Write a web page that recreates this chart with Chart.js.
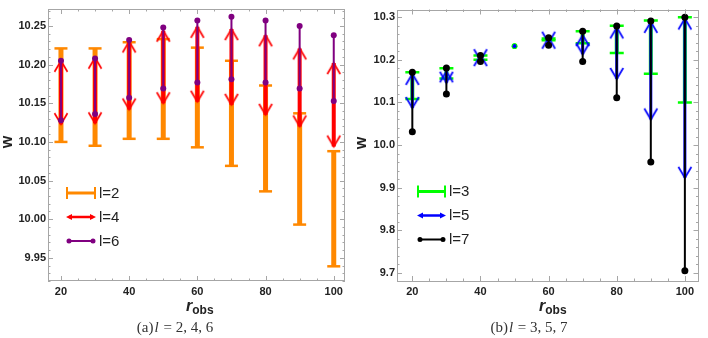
<!DOCTYPE html>
<html lang="en">
<head>
<meta charset="UTF-8" />
<title>w vs r_obs</title>
<script src="https://cdn.jsdelivr.net/npm/chart.js"></script>
<style>
  body { margin: 0; background: #fff; }
  #wrap { position: relative; width: 708px; height: 338px; overflow: hidden; }
  .panel { position: absolute; top: 0; width: 354px; height: 310px; }
  .ytitle { position: absolute; font: bold 16px "Liberation Sans", Arial, sans-serif; color: #222;
            transform: rotate(-90deg); transform-origin: center; width: 14px; text-align: center; }
  .xtitle { position: absolute; font: bold italic 16px "Liberation Sans", Arial, sans-serif; color: #222; }
  .xtitle sub { font-style: normal; font-size: 12px; vertical-align: -3px; }
  .caption { position: absolute; top: 319px; width: 200px; text-align: center;
             font: 15px "Liberation Serif", "Times New Roman", serif; color: #333; }
  .caption i { margin: 0 1px; }
</style>
</head>
<body>
<div id="wrap">
  <div class="panel" style="left:0"><canvas id="chartA" width="354" height="310"></canvas></div>
  <div class="panel" style="left:354px"><canvas id="chartB" width="354" height="310"></canvas></div>

  <div class="ytitle" style="left:0px; top:133px;">w</div>
  <div class="ytitle" style="left:354px; top:134px;">w</div>
  <div class="xtitle" style="left:186px; top:297px;">r<sub>obs</sub></div>
  <div class="xtitle" style="left:539px; top:297px;">r<sub>obs</sub></div>

  <div class="caption" style="left:75px;">(a)<i>l</i>&nbsp;=&nbsp;2,&nbsp;4,&nbsp;6</div>
  <div class="caption" style="left:429px;">(b)<i>l</i>&nbsp;=&nbsp;3,&nbsp;5,&nbsp;7</div>
</div>

<script>
// ---- data ----
const rObs = [20, 30, 40, 50, 60, 70, 80, 90, 100];

// (a) l = 2, 4, 6
const l2Lo = [10.100, 10.095, 10.104, 10.104, 10.093, 10.069, 10.036, 9.993, 9.939];
const l2Hi = [10.221, 10.221, 10.229, 10.233, 10.222, 10.205, 10.173, 10.137, 10.088];
const l4Lo = [10.123, 10.124, 10.142, 10.150, 10.152, 10.148, 10.135, 10.120, 10.094];
const l4Hi = [10.205, 10.209, 10.230, 10.244, 10.249, 10.246, 10.238, 10.221, 10.202];
const l6Lo = [10.128, 10.136, 10.157, 10.169, 10.177, 10.181, 10.177, 10.169, 10.153];
const l6Hi = [10.205, 10.208, 10.232, 10.248, 10.257, 10.262, 10.257, 10.250, 10.238];

// (b) l = 3, 5, 7
const l3Lo = [10.108, 10.156, 10.200, 10.232, 10.246, 10.239, 10.216, 10.167, 10.100];
const l3Hi = [10.171, 10.180, 10.210, 10.232, 10.250, 10.267, 10.280, 10.292, 10.300];
const l5Lo = [10.087, 10.146, 10.199, 10.232, 10.240, 10.213, 10.155, 10.060, 9.923];
const l5Hi = [10.167, 10.173, 10.211, 10.232, 10.252, 10.258, 10.276, 10.289, 10.297];
const l7Lo = [10.031, 10.120, 10.196, null, 10.234, 10.196, 10.111, 9.960, 9.705];
const l7Hi = [10.171, 10.181, 10.210, null, 10.252, 10.267, 10.279, 10.291, 10.300];

// tick labels
const xTickValues = [20, 40, 60, 80, 100];
const yTicksA = [9.95, 10.00, 10.05, 10.10, 10.15, 10.20, 10.25];
const yTicksB = [9.7, 9.8, 9.9, 10.0, 10.1, 10.2, 10.3];

const labelsA = ['l=2', 'l=4', 'l=6'];
const labelsB = ['l=3', 'l=5', 'l=7'];

const COL = { orange: '#ff8800', red: '#ff0000', purple: '#800080',
              green: '#00ff00', blue: '#0000ff', black: '#000000' };

// ---- helpers ----
// lo/hi pairs -> line segments separated by gaps
function segs(lo, hi) {
  const pts = [];
  rObs.forEach((x, i) => {
    if (lo[i] == null) return;
    const flat = lo[i] === hi[i];
    pts.push({ x, y: lo[i], end: 'lo', flat }, { x, y: hi[i], end: 'hi', flat }, { x, y: null });
  });
  return pts;
}

// open chevron arrowheads, tip at image centre
function chevron(color, up) {
  const c = document.createElement('canvas');
  c.width = 16; c.height = 26;
  const g = c.getContext('2d');
  g.strokeStyle = color; g.lineWidth = 1.7; g.lineJoin = 'miter';
  g.beginPath();
  if (up) { g.moveTo(1.5, 24); g.lineTo(8, 13); g.lineTo(14.5, 24); }
  else { g.moveTo(1.5, 2); g.lineTo(8, 13); g.lineTo(14.5, 2); }
  g.stroke();
  return c;
}

function errorBarSet(lo, hi, color, width, capR, order) {
  return {
    data: segs(lo, hi), order,
    borderColor: color, borderWidth: width, backgroundColor: color,
    pointStyle: c => (c.raw && c.raw.flat) ? 'circle' : 'line',
    pointRadius: c => (c.raw && c.raw.flat) ? 2.8 : capR,
    pointBorderWidth: c => (c.raw && c.raw.flat) ? 0 : 2.5,
    pointBorderColor: color, pointBackgroundColor: color
  };
}

function arrowSet(lo, hi, color, width, order) {
  const up = chevron(color, true), down = chevron(color, false);
  return {
    data: segs(lo, hi), order,
    borderColor: color, borderWidth: width,
    pointStyle: c => (c.raw && c.raw.flat) ? 'circle' : (c.raw && c.raw.end === 'hi' ? up : down),
    pointRadius: c => (c.raw && c.raw.flat) ? 1.8 : 6,
    pointBorderWidth: 0, pointBackgroundColor: color
  };
}

function dotSet(lo, hi, color, width, r, order) {
  return {
    data: segs(lo, hi), order,
    borderColor: color, borderWidth: width,
    pointStyle: 'circle', pointRadius: r, pointBorderWidth: 0, pointBackgroundColor: color
  };
}

// Mathematica-like frame with inward ticks on all sides
const frameTicks = {
  id: 'frameTicks',
  afterDraw(chart, args, o) {
    const { ctx, chartArea: a, scales: { x, y } } = chart;
    ctx.save();
    ctx.strokeStyle = '#a6a6a6'; ctx.lineWidth = 1;
    ctx.strokeRect(Math.round(a.left) + 0.5, Math.round(a.top) + 0.5,
                   Math.round(a.right - a.left) - 1, Math.round(a.bottom - a.top) - 1);
    ctx.beginPath();
    const xt = (v, len) => { const p = Math.round(x.getPixelForValue(v)) + 0.5;
      ctx.moveTo(p, a.bottom); ctx.lineTo(p, a.bottom - len);
      ctx.moveTo(p, a.top); ctx.lineTo(p, a.top + len); };
    const yt = (v, len) => { const p = Math.round(y.getPixelForValue(v)) + 0.5;
      ctx.moveTo(a.left, p); ctx.lineTo(a.left + len, p);
      ctx.moveTo(a.right, p); ctx.lineTo(a.right - len, p); };
    x.ticks.forEach(t => xt(t.value, 5));
    y.ticks.forEach(t => yt(t.value, 5));
    for (let n = Math.ceil(x.min / o.xMinor); n * o.xMinor <= x.max; n++) xt(n * o.xMinor, 2.5);
    for (let n = Math.ceil(y.min / o.yMinor - 1e-9); n * o.yMinor <= y.max; n++) yt(n * o.yMinor, 2.5);
    ctx.stroke();
    ctx.restore();
  }
};

// legend drawn inside the plot
const innerLegend = {
  id: 'innerLegend',
  afterDatasetsDraw(chart, args, o) {
    const ctx = chart.ctx;
    ctx.save();
    o.items.forEach((it, i) => {
      const y = o.y + i * o.dy, x0 = o.x, x1 = o.x + o.w;
      ctx.strokeStyle = it.color; ctx.fillStyle = it.color;
      if (it.kind === 'bar') {
        ctx.lineWidth = 3;
        ctx.beginPath(); ctx.moveTo(x0, y); ctx.lineTo(x1, y); ctx.stroke();
        ctx.lineWidth = 2;
        ctx.beginPath(); ctx.moveTo(x0 + 1, y - 6); ctx.lineTo(x0 + 1, y + 6);
        ctx.moveTo(x1 - 1, y - 6); ctx.lineTo(x1 - 1, y + 6); ctx.stroke();
      } else if (it.kind === 'arrow') {
        ctx.lineWidth = 2.5;
        ctx.beginPath(); ctx.moveTo(x0 + 3, y); ctx.lineTo(x1 - 3, y); ctx.stroke();
        ctx.beginPath();
        ctx.moveTo(x0, y); ctx.lineTo(x0 + 6, y - 3); ctx.lineTo(x0 + 6, y + 3); ctx.closePath();
        ctx.moveTo(x1, y); ctx.lineTo(x1 - 6, y - 3); ctx.lineTo(x1 - 6, y + 3); ctx.closePath();
        ctx.fill();
      } else {
        ctx.lineWidth = it.lw;
        ctx.beginPath(); ctx.moveTo(x0 + 3, y); ctx.lineTo(x1 - 3, y); ctx.stroke();
        ctx.beginPath(); ctx.arc(x0 + 3, y, it.r, 0, Math.PI * 2);
        ctx.arc(x1 - 3, y, it.r, 0, Math.PI * 2); ctx.fill();
      }
      ctx.fillStyle = '#222';
      ctx.font = '15px "Liberation Sans", Arial, sans-serif';
      ctx.textBaseline = 'middle';
      ctx.fillText(it.label, x1 + 3, y + 0.5);
    });
    ctx.restore();
  }
};

const tickFont = { family: '"Liberation Sans", Arial, sans-serif', size: 11, weight: 'bold' };

function makeChart(id, datasets, cfg) {
  return new Chart(document.getElementById(id), {
    type: 'line',
    data: { datasets },
    plugins: [frameTicks, innerLegend],
    options: {
      responsive: false, animation: false,
      layout: { padding: { top: cfg.padTop, right: cfg.padRight, left: 0, bottom: 0 } },
      elements: { line: { tension: 0, fill: false, borderCapStyle: 'butt' } },
      plugins: {
        legend: { display: false }, tooltip: { enabled: false },
        frameTicks: { xMinor: 5, yMinor: cfg.yMinor },
        innerLegend: cfg.legend
      },
      scales: {
        x: {
          type: 'linear', min: cfg.xMin, max: cfg.xMax,
          grid: { display: false, drawTicks: false }, border: { display: false },
          afterBuildTicks: s => { s.ticks = xTickValues.map(v => ({ value: v })); },
          ticks: { padding: 4, font: tickFont, color: '#222', maxRotation: 0,
                   callback: v => String(v) },
          afterFit: s => { s.height = 29; }
        },
        y: {
          type: 'linear', min: cfg.yMin, max: cfg.yMax,
          grid: { display: false, drawTicks: false }, border: { display: false },
          afterBuildTicks: s => { s.ticks = cfg.yTicks.map(v => ({ value: v })); },
          ticks: { padding: 2, font: tickFont, color: '#222',
                   callback: v => Number(v).toFixed(cfg.yDigits) },
          afterFit: s => { s.width = cfg.yWidth; }
        }
      }
    }
  });
}

makeChart('chartA', [
  dotSet(l6Lo, l6Hi, COL.purple, 2, 3, 1),
  arrowSet(l4Lo, l4Hi, COL.red, 4, 2),
  errorBarSet(l2Lo, l2Hi, COL.orange, 5, 6.5, 3)
], {
  xMin: 16.2, xMax: 103.3, yMin: 9.92, yMax: 10.272, yTicks: yTicksA, yDigits: 2,
  yMinor: 0.01, yWidth: 48, padTop: 7, padRight: 5,
  legend: { x: 66, y: 193, dy: 24, w: 30, items: [
    { kind: 'bar', color: COL.orange, label: labelsA[0] },
    { kind: 'arrow', color: COL.red, label: labelsA[1] },
    { kind: 'dots', color: COL.purple, label: labelsA[2], lw: 2, r: 2.5 }
  ] }
});

makeChart('chartB', [
  dotSet(l7Lo, l7Hi, COL.black, 2, 3.5, 1),
  arrowSet(l5Lo, l5Hi, COL.blue, 3, 2),
  errorBarSet(l3Lo, l3Hi, COL.green, 4, 7, 3)
], {
  xMin: 15.5, xMax: 104, yMin: 9.681, yMax: 10.318, yTicks: yTicksB, yDigits: 1,
  yMinor: 0.02, yWidth: 43, padTop: 2, padRight: 1.5,
  legend: { x: 63, y: 191.5, dy: 24, w: 29, items: [
    { kind: 'bar', color: COL.green, label: labelsB[0] },
    { kind: 'arrow', color: COL.blue, label: labelsB[1] },
    { kind: 'dots', color: COL.black, label: labelsB[2], lw: 2, r: 2.5 }
  ] }
});
</script>
</body>
</html>
